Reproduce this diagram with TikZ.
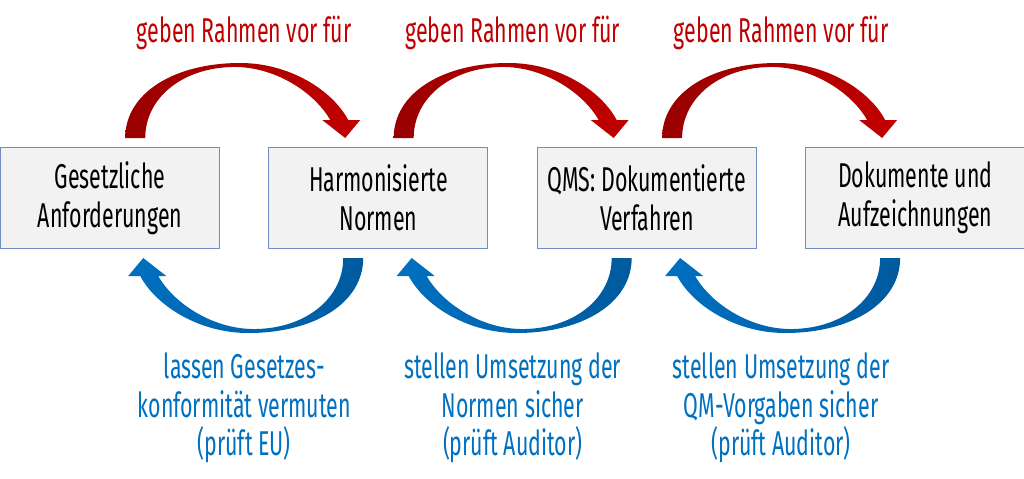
\documentclass[tikz,border=0pt]{standalone}
\usepackage{fontspec}
\setmainfont{Fira Sans}[FakeStretch=0.62]
\usepackage{tikz}
\usetikzlibrary{positioning,calc}
\definecolor{rot}{HTML}{C00000}
\definecolor{dunkelrot}{HTML}{9A0000}
\definecolor{blau}{HTML}{0070C0}
\definecolor{dunkelblau}{HTML}{005A9E}
\definecolor{rand}{HTML}{6F8DC3}
\definecolor{kasten}{HTML}{F2F2F2}
\tikzset{
  box/.style={draw=rand,fill=kasten,line width=0.7pt,minimum width=5.475cm,minimum height=2.5cm,
    align=center,font=\fontsize{24.5}{27.5}\selectfont},
  oben/.style={text=rot,align=center,font=\fontsize{24.5}{27.5}\selectfont},
  unten/.style={text=blau,align=center,font=\fontsize{24.5}{27.5}\selectfont},
  bogen/.pic={
    \path[pic actions](-119,60)..controls(-119,105)and(-70,135)..(-4,135)
      ..controls(45,135)and(88,108)..(104,78)--(116,78)--(101,60)--(78,78)--(86,78)
      ..controls(70,106)and(30,132)..(-12,131)..controls(-62,130)and(-99,100)..(-99,60)--cycle;
  }
}
\begin{document}
\begin{tikzpicture}[x=0.025cm,y=0.025cm]
\useasboundingbox(0,0)rectangle(1024,-479);
\node[box](gesetz)at(110,-198){Gesetzliche\\Anforderungen};
\node[box,right=1.21cm of gesetz](normen){Harmonisierte\\Normen};
\node[box,right=1.21cm of normen](qms){QMS: Dokumentierte\\Verfahren};
\node[box,right=1.21cm of qms](doku){Dokumente und\\Aufzeichnungen};
\pic[left color=dunkelrot,right color=rot]at($(gesetz)!0.5!(normen)$){bogen};
\pic[left color=dunkelrot,right color=rot]at($(normen)!0.5!(qms)$){bogen};
\pic[left color=dunkelrot,right color=rot]at($(qms)!0.5!(doku)$){bogen};
\pic[rotate=180,left color=blau,right color=dunkelblau]at($(gesetz)!0.5!(normen)$){bogen};
\pic[rotate=180,left color=blau,right color=dunkelblau]at($(normen)!0.5!(qms)$){bogen};
\pic[rotate=180,left color=blau,right color=dunkelblau]at($(qms)!0.5!(doku)$){bogen};
\node[oben](r1)at($(gesetz)!0.5!(normen)+(0,165)$){geben Rahmen vor für};
\node[oben](r2)at($(normen)!0.5!(qms)+(0,165)$){geben Rahmen vor für};
\node[oben](r3)at($(qms)!0.5!(doku)+(0,165)$){geben Rahmen vor für};
\node[unten](b1)at($(gesetz)!0.5!(normen)+(0,-210)$){lassen Gesetzes-\\konformität vermuten\\(prüft EU)};
\node[unten](b2)at($(normen)!0.5!(qms)+(0,-210)$){stellen Umsetzung der\\Normen sicher\\(prüft Auditor)};
\node[unten](b3)at($(qms)!0.5!(doku)+(0,-210)$){stellen Umsetzung der\\QM-Vorgaben sicher\\(prüft Auditor)};
\end{tikzpicture}
\end{document}
